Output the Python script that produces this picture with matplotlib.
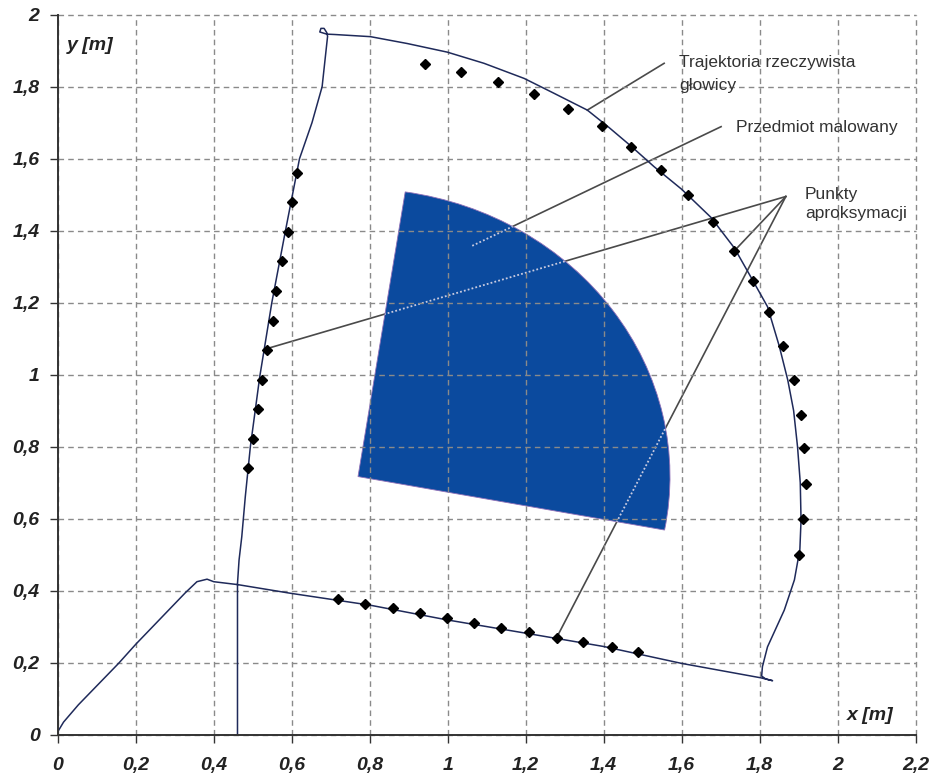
import matplotlib.pyplot as plt
import numpy as np
from matplotlib.patches import Wedge

plt.rcParams['font.family'] = ['Liberation Sans', 'DejaVu Sans']

# --- dane: trajektoria rzeczywista głowicy [m] ---
traj_x = [0.0, 0.015, 0.053, 0.156, 0.200, 0.327, 0.357, 0.383, 0.400, 0.461,
          0.596, 0.800, 0.998, 1.200, 1.400, 1.600, 1.803, 1.833, 1.815, 1.805,
          1.807, 1.820, 1.863, 1.889, 1.903, 1.906, 1.904, 1.897, 1.887, 1.872,
          1.850, 1.820, 1.777, 1.735, 1.675, 1.600, 1.529, 1.470, 1.410, 1.358,
          1.272, 1.196, 1.093, 0.999, 0.896, 0.802, 0.710, 0.690, 0.672, 0.675,
          0.683, 0.690, 0.692, 0.678, 0.652, 0.620, 0.584, 0.549, 0.518, 0.494,
          0.481, 0.472, 0.465, 0.461, 0.461]
traj_y = [0.008, 0.035, 0.083, 0.198, 0.251, 0.394, 0.425, 0.432, 0.425, 0.417,
          0.393, 0.360, 0.319, 0.282, 0.245, 0.198, 0.158, 0.150, 0.155, 0.163,
          0.189, 0.244, 0.346, 0.430, 0.515, 0.596, 0.700, 0.800, 0.900, 0.985,
          1.080, 1.189, 1.272, 1.352, 1.437, 1.515, 1.578, 1.635, 1.690, 1.735,
          1.782, 1.823, 1.865, 1.896, 1.920, 1.939, 1.945, 1.946, 1.952, 1.962,
          1.962, 1.950, 1.940, 1.800, 1.700, 1.600, 1.400, 1.200, 0.994, 0.800,
          0.661, 0.550, 0.485, 0.420, 0.0]

# --- punkty aproksymacji ---
pts_x = [0.718, 0.787, 0.859, 0.929, 0.998, 1.067, 1.137, 1.208, 1.279, 1.347, 1.420, 1.487,
         1.900, 1.911, 1.918, 1.914, 1.905, 1.887, 1.860, 1.824, 1.783, 1.735, 1.679, 1.616,
         1.546, 1.471, 1.395, 1.308, 1.222, 1.129, 1.035, 0.943,
         0.614, 0.601, 0.590, 0.575, 0.561, 0.551, 0.537, 0.523, 0.513, 0.500, 0.489]
pts_y = [0.377, 0.363, 0.351, 0.338, 0.325, 0.311, 0.296, 0.286, 0.269, 0.258, 0.243, 0.229,
         0.499, 0.599, 0.696, 0.796, 0.889, 0.986, 1.080, 1.174, 1.259, 1.344, 1.425, 1.499,
         1.569, 1.632, 1.690, 1.738, 1.779, 1.813, 1.842, 1.862,
         1.561, 1.479, 1.397, 1.315, 1.232, 1.150, 1.069, 0.986, 0.904, 0.822, 0.740]

# --- przedmiot malowany (wycinek koła) ---
obj_center = (0.77, 0.717)
obj_radius = 0.80
obj_theta = (-10.7, 81.3)

x_ticks = [0, 0.2, 0.4, 0.6, 0.8, 1, 1.2, 1.4, 1.6, 1.8, 2, 2.2]
y_ticks = [0, 0.2, 0.4, 0.6, 0.8, 1, 1.2, 1.4, 1.6, 1.8, 2]

# --- opisy: (koniec przy tekście, koniec przy obiekcie) ---
traj_leader = [(1.555, 1.865), (1.358, 1.735)]
obj_leader = [(1.701, 1.689), (1.059, 1.356)]
pts_apex = (1.867, 1.495)
pts_targets = [(0.532, 1.071), (1.735, 1.344), (1.279, 0.269)]

fig = plt.figure(figsize=(9.34, 7.79), dpi=100)
fig.patch.set_facecolor('white')
ax = fig.add_axes([57.7 / 934, 44.3 / 779, 858 / 934, 720 / 779])
ax.set_xlim(0, 2.2)
ax.set_ylim(0, 2)

ax.set_axisbelow('line')
ax.grid(True, linestyle=(0, (4, 3)), color='#8a8a8a', lw=1.0)

wedge = Wedge(obj_center, obj_radius, obj_theta[0], obj_theta[1],
              facecolor='#0b4a9e', edgecolor='#9070b8', lw=0.6, zorder=1)
ax.add_patch(wedge)

line_col = '#4a4a4a'
segs = [traj_leader, obj_leader] + [[pts_apex, t] for t in pts_targets]
for (x0, y0), (x1, y1) in segs:
    ax.plot([x0, x1], [y0, y1], color=line_col, lw=1.2, zorder=0.9)
    over = ax.plot([x0, x1], [y0, y1], color='#c9cbe0', lw=1.3,
                   linestyle=(0, (1, 1.2)), zorder=1.2)[0]
    over.set_clip_path(wedge)

ax.plot(traj_x, traj_y, color='#1f2a5a', lw=1.1, zorder=2.5)
ax.plot(pts_x, pts_y, linestyle='none', marker='D', markersize=5.5,
        color='black', zorder=3)

txt = dict(fontsize=12.5, color='#333333', ha='left', va='baseline', zorder=4)
ax.text(1.593, 1.856, 'Trajektoria rzeczywista', **txt)
ax.text(1.593, 1.791, 'głowicy', **txt)
ax.text(1.739, 1.675, 'Przedmiot malowany', **txt)
ax.text(1.916, 1.487, 'Punkty', **txt)
ax.text(1.916, 1.434, 'aproksymacji', **txt)

fmt = lambda v: f'{v:g}'.replace('.', ',')
ax.set_xticks(x_ticks)
ax.set_yticks(y_ticks)
ax.set_xticklabels([fmt(v) for v in x_ticks])
ax.set_yticklabels([fmt(v) for v in y_ticks])
lab = dict(fontsize=14, fontweight='bold', fontstyle='italic', color='#222222')
for t in ax.get_xticklabels() + ax.get_yticklabels():
    t.set(**lab)
ax.tick_params(axis='both', direction='out', length=6, width=1, color='#333333')
ax.tick_params(axis='x', pad=10)
ax.tick_params(axis='y', pad=7)

for s in ['top', 'right']:
    ax.spines[s].set_visible(False)
for s in ['left', 'bottom']:
    ax.spines[s].set_color('#333333')
    ax.spines[s].set_linewidth(1.4)
for gl in ax.get_xgridlines() + ax.get_ygridlines():
    gl.set_clip_on(False)

fig.text(67 / 934, 1 - 46 / 779, 'y [m]', ha='left', va='center', **lab)
fig.text(870 / 934, 1 - 716 / 779, 'x [m]', ha='center', va='center', **lab)

fig.savefig('out.png', dpi=100, facecolor='white')
